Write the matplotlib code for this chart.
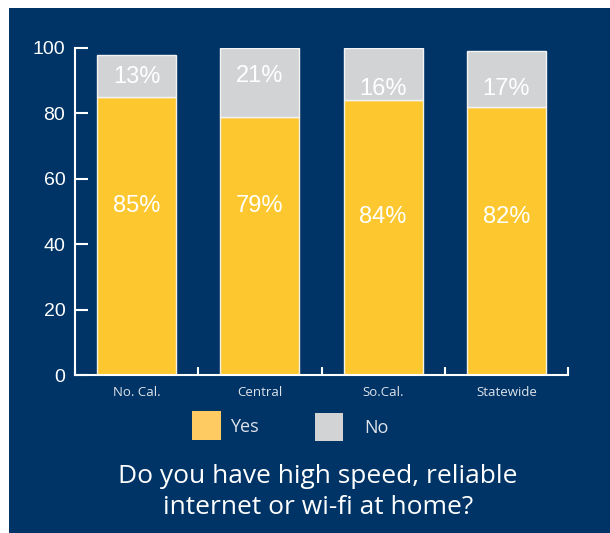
import matplotlib.pyplot as plt
from matplotlib.patches import Rectangle

# Colors:
bg_color = "#003466"
yes_color = "#fdc82f"
no_color = "#d1d3d4"
legend_yes_color = "#fecb62"
text_color = "#ffffff"
tick_text_color = "#dfe3ea"

# Survey results (percent):
regions = ["No. Cal.", "Central", "So.Cal.", "Statewide"]
yes_pct = [85, 79, 84, 82]
no_pct = [13, 21, 16, 17]

# Heights where the percent labels sit inside the bars:
yes_label_y = [51.8, 51.8, 48.2, 48.2]
no_label_y = [91.0, 91.4, 87.4, 87.4]

fig = plt.figure(figsize=(6.10, 5.33), dpi=100)
fig.patch.set_facecolor("white")

# Navy panel behind everything:
fig.add_artist(Rectangle((9 / 610, 0), 1, 1 - 8 / 533, transform=fig.transFigure,
                         facecolor=bg_color, edgecolor="none", zorder=0))

ax = fig.add_axes([75 / 610, 1 - 375 / 533, (568 - 75) / 610, (375 - 48) / 533])
ax.set_facecolor("none")

x = range(len(regions))
ax.bar(x, yes_pct, width=0.64, color=yes_color, edgecolor="#f3f0e6", linewidth=1)
ax.bar(x, no_pct, width=0.64, bottom=yes_pct, color=no_color, edgecolor="#f3f3f3", linewidth=1)

for i in x:
    ax.text(i, yes_label_y[i], f"{yes_pct[i]}%", ha="center", va="center",
            color=text_color, fontsize=17, family="Liberation Sans")
    ax.text(i, no_label_y[i], f"{no_pct[i]}%", ha="center", va="center",
            color=text_color, fontsize=17, family="Liberation Sans")

ax.set_xlim(-0.5, len(regions) - 0.5)
ax.set_ylim(0, 100)

for side in ["top", "right"]:
    ax.spines[side].set_visible(False)
for side in ["left", "bottom"]:
    ax.spines[side].set_color("white")
    ax.spines[side].set_linewidth(1.5)

# Major ticks mark the group boundaries, minor ticks carry the region names
ax.set_xticks([i - 0.5 for i in range(len(regions) + 1)])
ax.set_xticklabels([])
ax.set_xticks(list(x), minor=True)
ax.set_xticklabels(regions, minor=True)
ax.tick_params(axis="x", which="major", direction="in", length=6, width=1.5, color="white")
ax.tick_params(axis="x", which="minor", length=0, pad=8, labelsize=9.5, labelcolor=tick_text_color)
for lab in ax.get_xticklabels(minor=True):
    lab.set_family("Open Sans")

ax.set_yticks([0, 20, 40, 60, 80, 100])
ax.tick_params(axis="y", direction="in", length=9, width=1.5, color="white",
               pad=7, labelsize=14, labelcolor="white")
for lab in ax.get_yticklabels():
    lab.set_family("Liberation Sans")

# Legend swatches:
fig.add_artist(Rectangle((192 / 610, 1 - 440 / 533), 29 / 610, 29 / 533, transform=fig.transFigure,
                         facecolor=legend_yes_color, edgecolor="none"))
fig.text(230 / 610, 1 - 427 / 533, "Yes", ha="left", va="center", fontsize=13,
         color=tick_text_color, family="Open Sans")
fig.add_artist(Rectangle((315 / 610, 1 - 441 / 533), 28 / 610, 28 / 533, transform=fig.transFigure,
                         facecolor=no_color, edgecolor="none"))
fig.text(364 / 610, 1 - 428 / 533, "No", ha="left", va="center", fontsize=13,
         color=tick_text_color, family="Open Sans")

fig.text(318 / 610, 1 - 492 / 533, "Do you have high speed, reliable\ninternet or wi-fi at home?",
         ha="center", va="center", fontsize=19, color="white", family="Open Sans",
         linespacing=1.3)

fig.savefig("out.png", dpi=100, facecolor=fig.get_facecolor())
